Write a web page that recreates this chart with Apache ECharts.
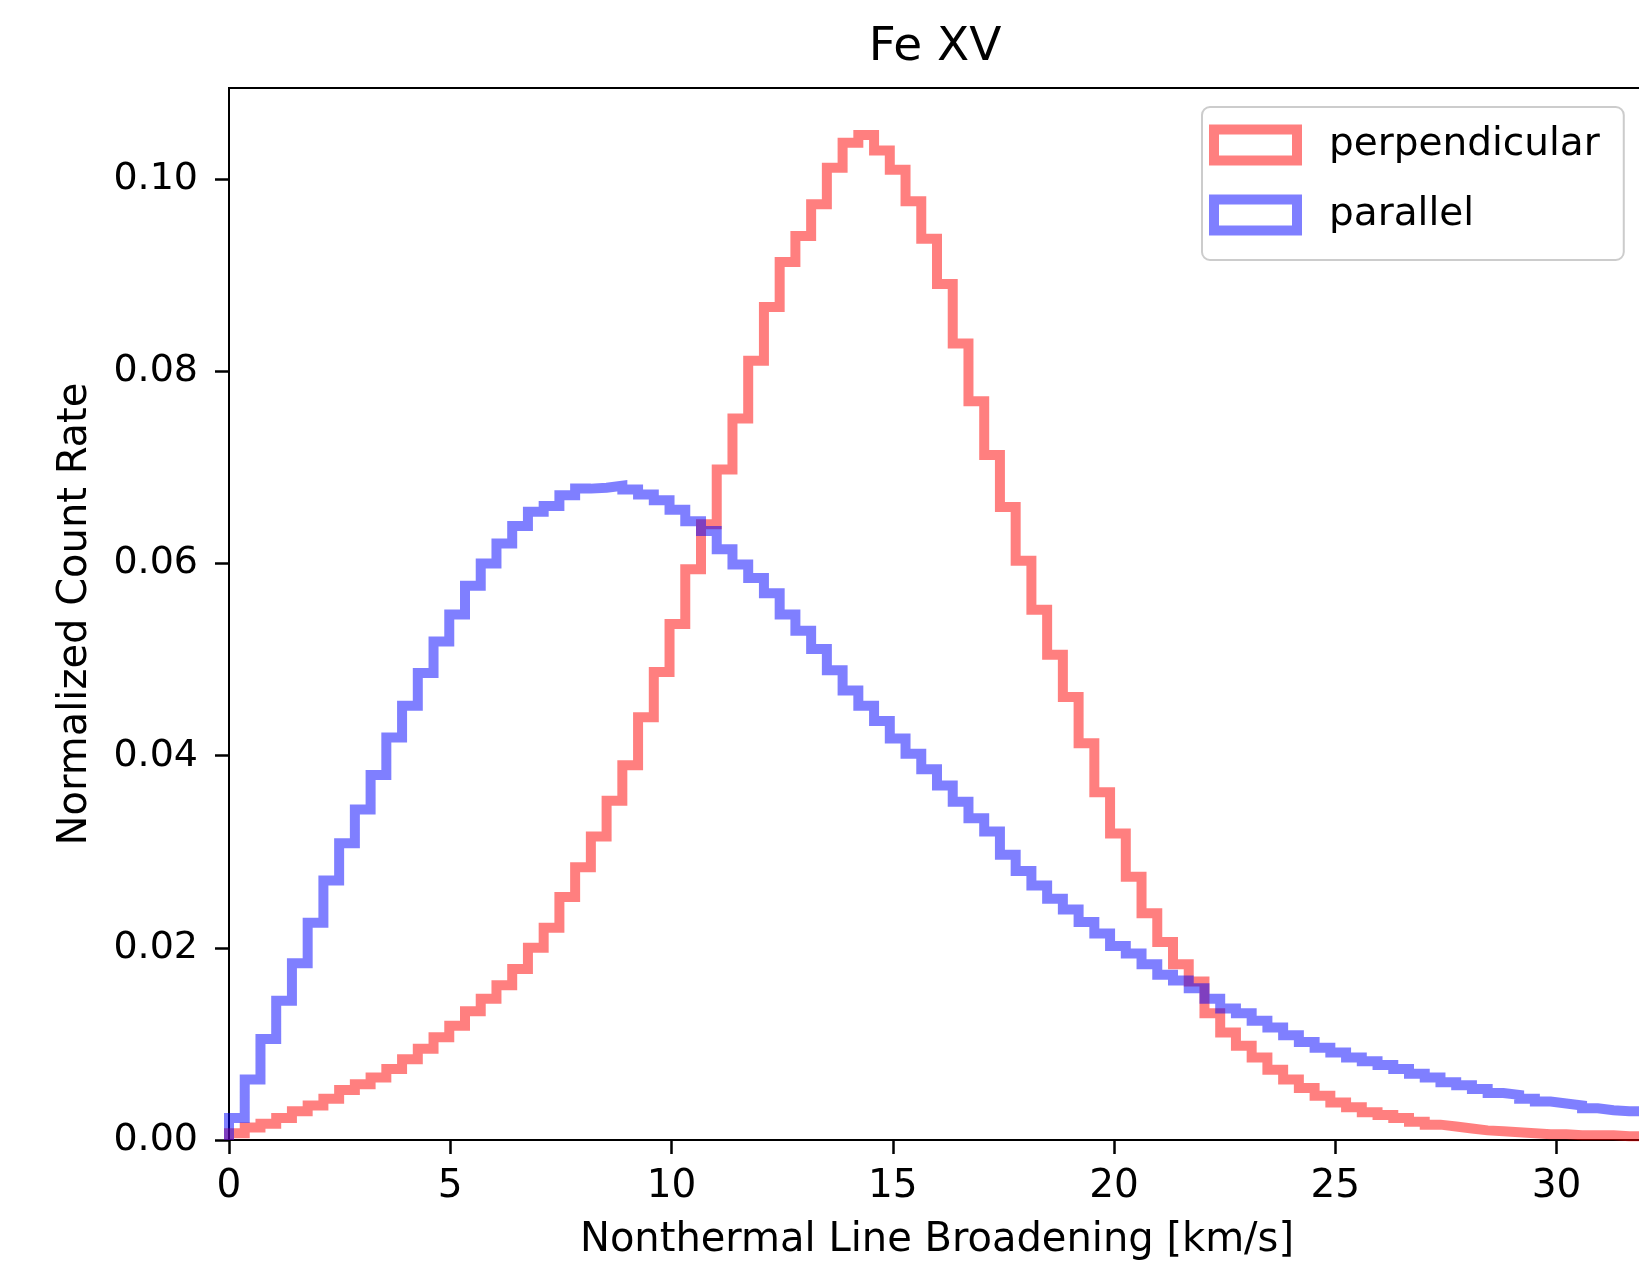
<!DOCTYPE html>
<html>
<head>
<meta charset="utf-8">
<script src="https://cdn.jsdelivr.net/npm/echarts@6/dist/echarts.min.js"></script>
<style>
html,body{margin:0;padding:0;background:#fff;}
#chart{width:1639px;height:1268px;}
</style>
</head>
<body>
<div id="chart"></div>
<script>
const chartTitle = 'Fe XV';
const xAxisLabel = 'Nonthermal Line Broadening [km/s]';
const yAxisLabel = 'Normalized Count Rate';
const seriesNames = ['perpendicular', 'parallel'];

// histogram bins: 90 equal bins starting at 0 km/s
const binStart = 0;
const binWidth = 32 / 90;

const perpendicular = [
  0.0007, 0.0013, 0.0017, 0.0023, 0.0030, 0.0036, 0.0043, 0.0052, 0.0058, 0.0065,
  0.0074, 0.0084, 0.0095, 0.0107, 0.0119, 0.0134, 0.0147, 0.0161, 0.0178, 0.0200,
  0.0221, 0.0253, 0.0284, 0.0316, 0.0353, 0.0390, 0.0440, 0.0487, 0.0537, 0.0594,
  0.0641, 0.0698, 0.0751, 0.0811, 0.0867, 0.0914, 0.0941, 0.0974, 0.1012, 0.1038,
  0.1046, 0.1030, 0.1010, 0.0977, 0.0938, 0.0891, 0.0829, 0.0769, 0.0713, 0.0659,
  0.0603, 0.0552, 0.0505, 0.0461, 0.0413, 0.0362, 0.0319, 0.0274, 0.0236, 0.0206,
  0.0183, 0.0165, 0.0132, 0.0112, 0.0098, 0.0086, 0.0073, 0.0063, 0.0054, 0.0046,
  0.0039, 0.0034, 0.0029, 0.0026, 0.0023, 0.0019, 0.0016, 0.0014, 0.0012, 0.0010,
  0.0009, 0.0008, 0.0007, 0.0006, 0.0006, 0.0005, 0.0005, 0.0005, 0.0004, 0.0004
];

const parallel = [
  0.0023, 0.0063, 0.0105, 0.0145, 0.0184, 0.0226, 0.0270, 0.0309, 0.0344, 0.0380,
  0.0419, 0.0452, 0.0486, 0.0519, 0.0547, 0.0577, 0.0600, 0.0621, 0.0639, 0.0654,
  0.0660, 0.0671, 0.0678, 0.0679, 0.0681, 0.0677, 0.0672, 0.0666, 0.0656, 0.0644,
  0.0634, 0.0615, 0.0599, 0.0585, 0.0569, 0.0547, 0.0530, 0.0511, 0.0489, 0.0468,
  0.0452, 0.0436, 0.0418, 0.0402, 0.0386, 0.0369, 0.0352, 0.0335, 0.0321, 0.0297,
  0.0280, 0.0265, 0.0251, 0.0240, 0.0227, 0.0215, 0.0202, 0.0194, 0.0183, 0.0172,
  0.0166, 0.0158, 0.0147, 0.0137, 0.0132, 0.0124, 0.0117, 0.0109, 0.0102, 0.0096,
  0.0091, 0.0086, 0.0082, 0.0078, 0.0074, 0.0069, 0.0065, 0.0060, 0.0057, 0.0053,
  0.0049, 0.0047, 0.0043, 0.0040, 0.0038, 0.0036, 0.0033, 0.0031, 0.0030, 0.0030
];

const xTicks = [0, 5, 10, 15, 20, 25, 30];
const yTicks = [0.00, 0.02, 0.04, 0.06, 0.08, 0.10];
const xRange = [0, 32];
const yRange = [0, 0.1095];

const FONT = 'DejaVu Sans';

// build step-histogram outline (matplotlib histtype="step") from bin values
function stepData(vals) {
  const d = [[binStart, 0]];
  vals.forEach((v, i) => d.push([binStart + i * binWidth, v]));
  const end = binStart + vals.length * binWidth;
  d.push([end, vals[vals.length - 1]]);
  d.push([end, 0]);
  return d;
}

const colors = ['rgba(255,0,0,0.5)', 'rgba(0,0,255,0.5)'];
const values = [perpendicular, parallel];

const chart = echarts.init(document.getElementById('chart'), null, {renderer: 'canvas'});

chart.setOption({
  animation: false,
  backgroundColor: '#ffffff',
  title: {
    text: chartTitle,
    left: 935,
    top: 24,
    padding: 0,
    textAlign: 'center',
    textStyle: {fontFamily: FONT, fontSize: 47, fontWeight: 'normal', color: '#000'}
  },
  grid: {
    left: 229, top: 88, width: 1416, height: 1052,
    outerBoundsMode: 'none',
    containLabel: false,
    show: true, borderColor: '#000', borderWidth: 2, backgroundColor: 'transparent'
  },
  legend: {
    orient: 'vertical',
    left: 1202, top: 107,
    padding: [15, 24, 22, 7],
    itemGap: 24,
    itemWidth: 83,
    itemHeight: 31,
    icon: 'rect',
    backgroundColor: '#fff',
    borderColor: '#cccccc',
    borderWidth: 2,
    borderRadius: 8,
    selectedMode: false,
    textStyle: {fontFamily: FONT, fontSize: 39, color: '#000', lineHeight: 40, padding: [6, 0, 0, 27]},
    data: seriesNames.map((n, i) => ({
      name: n,
      itemStyle: {color: '#ffffff', borderColor: colors[i], borderWidth: 10}
    }))
  },
  xAxis: {
    type: 'value',
    min: xRange[0], max: xRange[1],
    name: xAxisLabel,
    nameLocation: 'middle',
    nameGap: 81,
    nameTextStyle: {fontFamily: FONT, fontSize: 40, color: '#000'},
    axisLine: {show: true, onZero: false, lineStyle: {color: '#000', width: 2}},
    axisTick: {show: true, length: 14, lineStyle: {color: '#000', width: 2.5}, customValues: xTicks},
    axisLabel: {fontFamily: FONT, fontSize: 39, color: '#000', margin: 27, customValues: xTicks,
      formatter: v => String(v)},
    splitLine: {show: false}
  },
  yAxis: {
    type: 'value',
    min: yRange[0], max: yRange[1],
    name: yAxisLabel,
    nameLocation: 'middle',
    nameGap: 133,
    nameTextStyle: {fontFamily: FONT, fontSize: 40, color: '#000'},
    axisLine: {show: true, onZero: false, lineStyle: {color: '#000', width: 2}},
    axisTick: {show: true, length: 14, lineStyle: {color: '#000', width: 2.5}, customValues: yTicks},
    axisLabel: {fontFamily: FONT, fontSize: 38, color: '#000', margin: 31, customValues: yTicks,
      formatter: v => v.toFixed(2)},
    splitLine: {show: false}
  },
  series: seriesNames.map((n, i) => ({
    name: n,
    type: 'line',
    step: 'end',
    data: stepData(values[i]),
    showSymbol: false,
    symbol: 'none',
    clip: true,
    color: colors[i],
    lineStyle: {color: colors[i], width: 10, join: 'miter', cap: 'butt'},
    emphasis: {disabled: true},
    z: 2 + i
  }))
});
</script>
</body>
</html>
